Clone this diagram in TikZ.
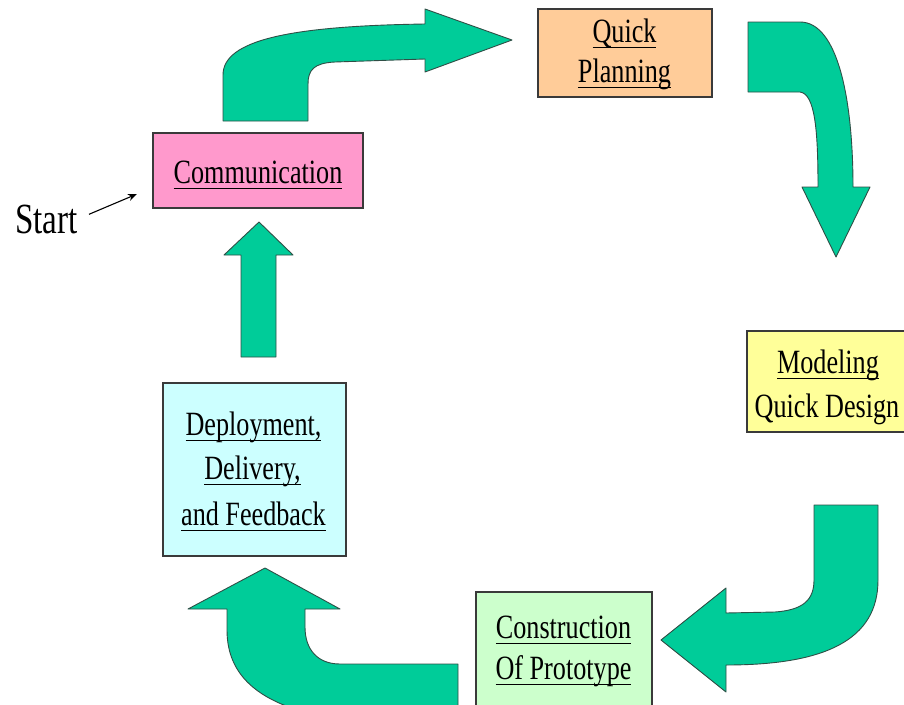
\documentclass[tikz,border=0pt]{standalone}
\usepackage{fontspec}
\setmainfont{Liberation Serif}[FakeStretch=0.77]
\usetikzlibrary{arrows.meta}
\definecolor{arrowgreen}{HTML}{00CC99}
\definecolor{arrowline}{HTML}{2F4F46}
\definecolor{boxline}{HTML}{3A3A3A}
\definecolor{pinkbox}{HTML}{FF99CC}
\definecolor{orangebox}{HTML}{FFCC99}
\definecolor{yellowbox}{HTML}{FFFF99}
\definecolor{greenbox}{HTML}{CCFFCC}
\definecolor{cyanbox}{HTML}{CCFFFF}
\newcommand{\ulw}[1]{\setbox0\hbox{#1}\rlap{\rule[-6pt]{\wd0}{1.4pt}}\box0}
\begin{document}
\begin{tikzpicture}[x=1pt,y=-1pt,
  box/.style={draw=boxline, line width=1.1pt, inner sep=0pt},
  lbl/.style={anchor=base, inner sep=0pt, text=black, font=\fontsize{34pt}{40pt}\selectfont},
  blockarrow/.style={fill=arrowgreen, draw=arrowline, line width=0.9pt, line join=round}]
\useasboundingbox (0,0) rectangle (904,704);
\clip (0,0) rectangle (904,704);
\fill[white] (0,0) rectangle (904,704);

% boxes
\node[box, fill=pinkbox,   minimum width=210pt, minimum height=75pt]  (comm)   at (258,170.5) {};
\node[box, fill=orangebox, minimum width=174pt, minimum height=88pt]  (plan)   at (625,53) {};
\node[box, fill=yellowbox, minimum width=170pt, minimum height=101pt] (model)  at (832,381.5) {};
\node[box, fill=greenbox,  minimum width=176pt, minimum height=118pt] (cons)   at (564,651) {};
\node[box, fill=cyanbox,   minimum width=183pt, minimum height=173pt] (deploy) at (254.5,469.5) {};

% block arrows
\draw[blockarrow] (223,121) -- (223,75) .. controls (223,40) and (290,26) .. (425,24)
  -- (425,9) -- (512,40) -- (425,72) -- (425,59) -- (335,62)
  .. controls (314,63) and (308,70) .. (308,84) -- (308,121) -- cycle;
\draw[blockarrow] (748,22) -- (800,22) .. controls (838,22) and (853,100) .. (853,187)
  -- (870,187) -- (836,257) -- (802,187) -- (818,187)
  .. controls (818,130) and (815,94) .. (800,92) -- (748,92) -- cycle;
\draw[blockarrow] (814,505) -- (878,505) -- (878,580) .. controls (878,640) and (825,665) .. (726,665)
  -- (726,692) -- (661,640) -- (726,588) -- (726,613) -- (775,612)
  .. controls (803,610) and (814,600) .. (814,580) -- cycle;
\draw[blockarrow] (458,664) -- (340,664) .. controls (318,664) and (305,650) .. (305,627)
  -- (305,609) -- (340,609) -- (265,568) -- (188,609) -- (227,609) -- (227,630)
  .. controls (227,680) and (265,712) .. (360,722) -- (458,722) -- cycle;
\draw[blockarrow] (241,357) -- (241,255) -- (224,255) -- (259,222) -- (293,255)
  -- (276,255) -- (276,357) -- cycle;

% labels
\node[lbl] (commt) at (258,183) {\ulw{Communication}};
\node[lbl] (plant1) at (624.5,42) {\ulw{Quick}};
\node[lbl] (plant2) at (624.5,82) {\ulw{Planning}};
\node[lbl] (modelt1) at (828,373) {\ulw{Modeling}};
\node[lbl] (modelt2) at (827,417) {Quick Design};
\node[lbl] (const1) at (563.5,638) {\ulw{Construction}};
\node[lbl] (const2) at (563.5,679) {\ulw{Of Prototype}};
\node[lbl] (dept1) at (253.5,435) {\ulw{Deployment,}};
\node[lbl] (dept2) at (252.5,479) {\ulw{Delivery,}};
\node[lbl] (dept3) at (253.5,525) {\ulw{and Feedback}};

% start
\node[anchor=base west, inner sep=0pt, font=\fontsize{43pt}{48pt}\selectfont] (start) at (15,233) {Start};
\coordinate (starttip) at (137,194);
\draw[line width=1.1pt, -{Stealth[length=9pt,width=7pt]}, shorten <=12pt] (start.east) -- (starttip);
\end{tikzpicture}
\end{document}
